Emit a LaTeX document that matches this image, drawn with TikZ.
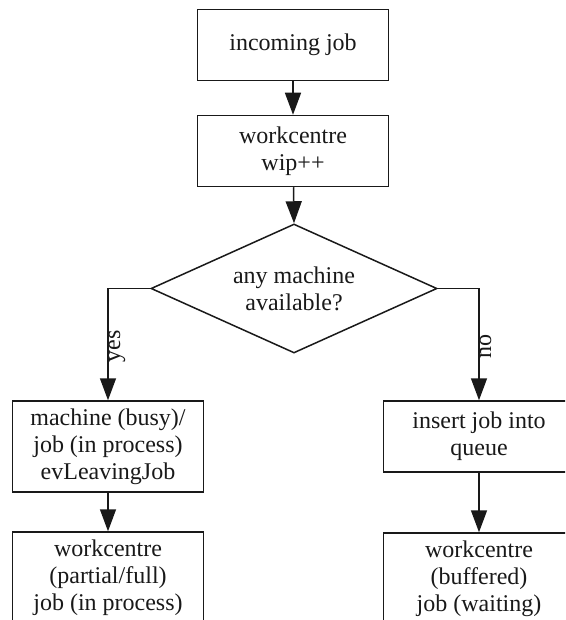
\documentclass[tikz,border=0pt]{standalone}
\usepackage{fontspec}
\setmainfont{Liberation Serif}
\usetikzlibrary{arrows.meta,shapes.geometric}
\definecolor{ink}{RGB}{25,25,25}
\tikzset{
  box/.style={draw=ink, line width=1.5pt, rectangle, minimum width=191pt,
    align=center, inner sep=0pt, text=ink,
    font=\fontsize{24}{27}\selectfont},
  decision/.style={draw=ink, line width=1.5pt, diamond, aspect=2.2,
    minimum width=286pt, minimum height=129pt, align=center, inner sep=0pt,
    text=ink, font=\fontsize{24}{27}\selectfont},
  flow/.style={draw=ink, line width=1.5pt,
    -{Triangle[length=22pt,width=16pt]}},
  branchlabel/.style={rotate=90, anchor=north, inner sep=0pt, text=ink,
    font=\fontsize{24}{27}\selectfont}
}
\begin{document}
\begin{tikzpicture}[x=1pt,y=-1pt]
  \clip (0,0) rectangle (565,620);
  \fill[white] (0,0) rectangle (565,620);

  % main column
  \node[box, minimum height=71pt] (incoming) at (293,45) {incoming job};
  \node[box, minimum height=71pt] (wip) at (293,151) {workcentre\\wip++};
  \node[decision] (avail) at (294,288.5) {any machine\\available?};

  % yes branch
  \node[box, minimum height=91pt] (machine) at (108,446.5)
    {machine (busy)/\\job (in process)\\evLeavingJob};
  \node[box, minimum height=92pt] (partial) at (108,578)
    {workcentre\\(partial/full)\\job (in process)};

  % no branch
  \node[box, minimum height=71pt] (queue) at (479,436.5)
    {insert job into\\queue};
  \node[box, minimum height=92pt] (buffered) at (479,579)
    {workcentre\\(buffered)\\job (waiting)};

  % connectors
  \draw[flow] (incoming) -- (wip);
  \draw[flow] (wip) -- (avail.north);
  \draw[flow] (avail.west) -| node[branchlabel, pos=0.76] {yes} (machine.north);
  \draw[flow] (avail.east) -| node[branchlabel, pos=0.76] {no} (queue.north);
  \draw[flow] (machine) -- (partial);
  \draw[flow] (queue) -- (buffered);
\end{tikzpicture}
\end{document}
